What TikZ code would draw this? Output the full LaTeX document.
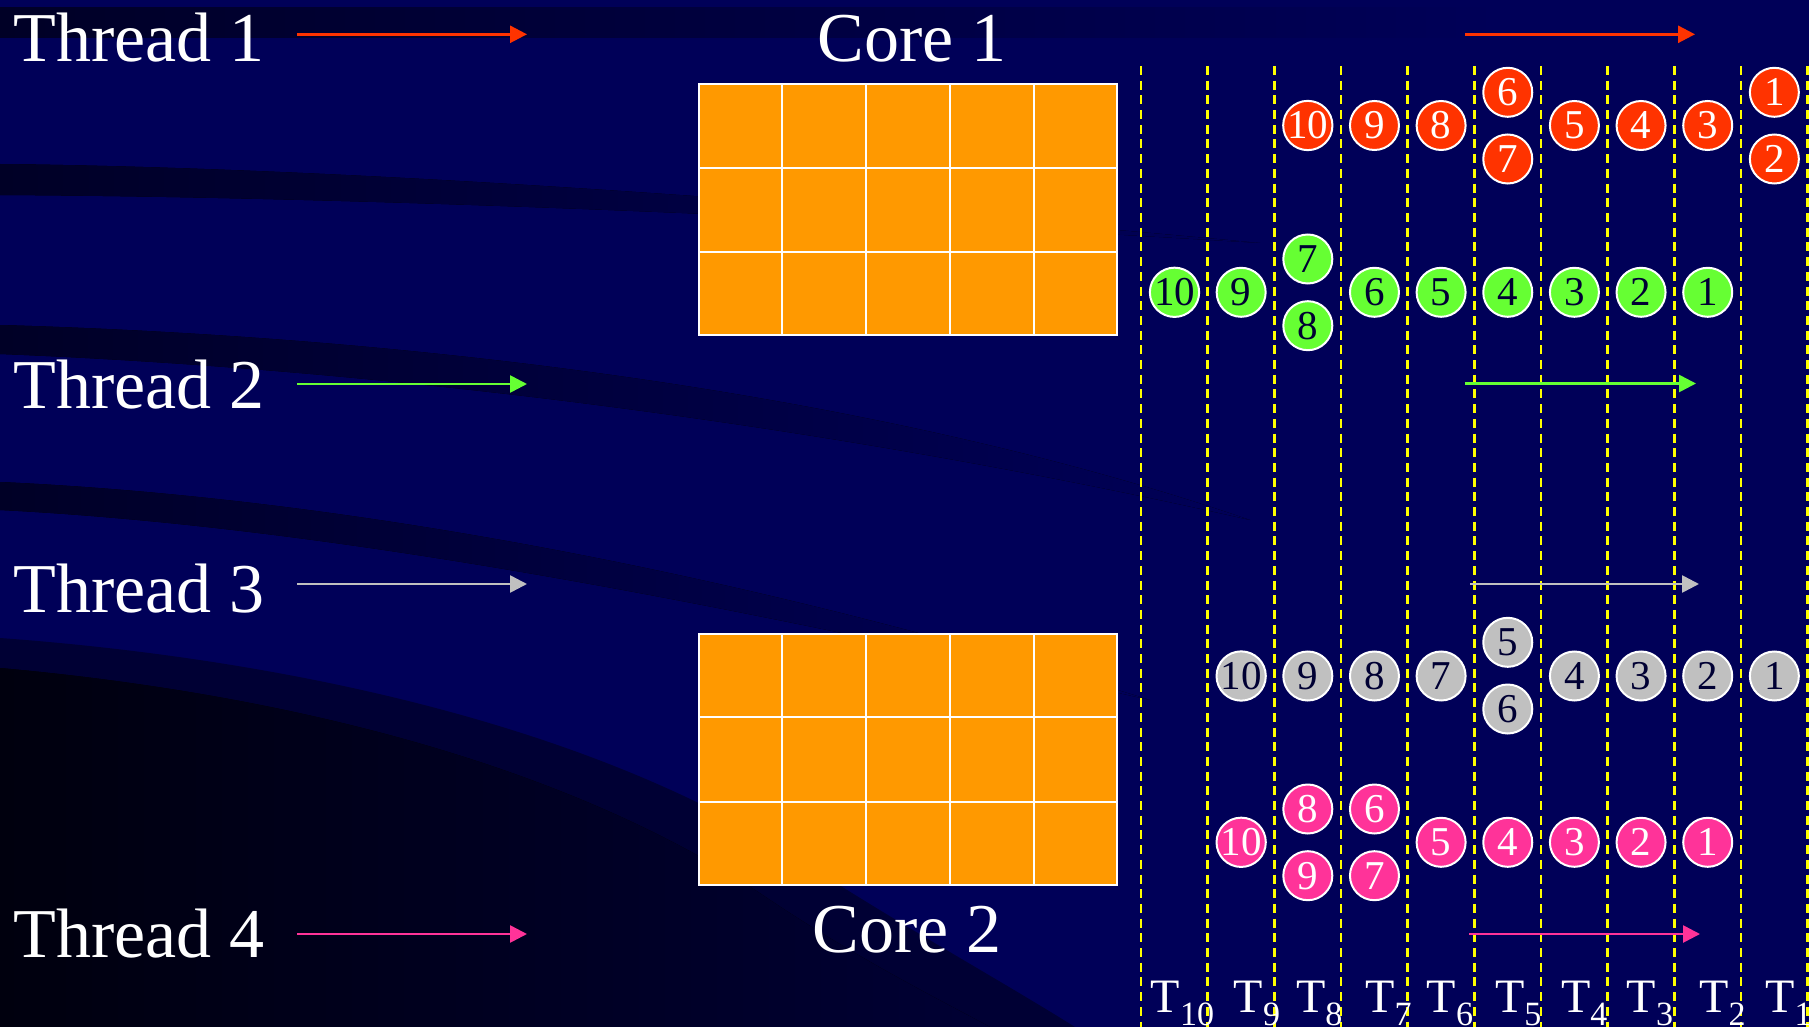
\documentclass[tikz,border=0pt]{standalone}
\usepackage{fontspec}
\setmainfont{Liberation Serif}
\usetikzlibrary{arrows.meta,calc}
\definecolor{bg}{RGB}{0,0,88}
\definecolor{banddk}{RGB}{0,0,38}
\definecolor{regE}{RGB}{0,0,52}
\definecolor{regF}{RGB}{0,0,14}
\definecolor{coreorange}{RGB}{255,153,0}
\definecolor{tred}{RGB}{255,51,0}
\definecolor{tgreen}{RGB}{102,255,51}
\definecolor{tgray}{RGB}{192,192,192}
\definecolor{tpink}{RGB}{255,51,153}
\definecolor{darktxt}{RGB}{0,0,51}
\definecolor{dashyellow}{RGB}{255,255,0}
\newcommand\mysub[1]{\raisebox{-6.15pt}{\fontsize{17}{17}\selectfont #1}}
\begin{document}
\begin{tikzpicture}[x=0.5pt,y=-0.5pt,
  lab/.style={text=white,font=\fontsize{35}{40}\selectfont,inner sep=0pt},
  tlab/.style={text=white,font=\fontsize{24}{28}\selectfont,inner sep=0pt,anchor=base west},
  corebox/.style={draw=white,line width=1pt,fill=coreorange,minimum width=209pt,minimum height=125.5pt,inner sep=0pt},
  gridline/.style={draw=white,line width=1pt},
  arr/.style={line width=1.3pt,-{Triangle[length=8.5pt,width=8.5pt]}},
  vdash/.style={draw=dashyellow,line width=1.3pt,dash pattern=on 4.5pt off 2.85pt},
  tok/.style={circle,draw=white,line width=1pt,minimum size=24.5pt,inner sep=0pt,font=\fontsize{20.5}{22}\selectfont},
  redtok/.style={tok,fill=tred,text=white},
  greentok/.style={tok,fill=tgreen,text=darktxt},
  graytok/.style={tok,fill=tgray,text=darktxt},
  pinktok/.style={tok,fill=tpink,text=white}]
\useasboundingbox (0,0) rectangle (1809,1027);
% background
\fill[bg] (0,0) rectangle (1809,1027);
\fill[left color=banddk,right color=bg] (0,8) rectangle (1500,38);
\fill[left color=banddk,right color=bg] (0,164) .. controls (350,168) and (800,200) .. (1260,243) .. controls (800,215) and (350,197) .. (0,195) -- cycle;
\fill[left color=banddk,right color=bg] (0,325) .. controls (450,338) and (900,400) .. (1250,520) .. controls (900,440) and (450,372) .. (0,354) -- cycle;
\fill[left color=banddk,right color=bg] (0,482) .. controls (350,498) and (750,575) .. (1150,700) .. controls (750,610) and (350,528) .. (0,510) -- cycle;
\fill[regE] (0,638) .. controls (300,660) and (600,730) .. (800,860) .. controls (900,925) and (1000,980) .. (1075,1027) -- (0,1027) -- cycle;
\fill[left color=regF,right color=regE] (0,668) .. controls (300,695) and (580,770) .. (770,900) .. controls (860,960) and (940,1000) .. (990,1027) -- (0,1027) -- cycle;
% dashed time lines
\foreach \i in {0,...,10}{
  \coordinate (dt\i) at ({1141+66.65*\i},66);
  \coordinate (db\i) at ({1141+66.65*\i},1027);
  \draw[vdash] (dt\i) -- (db\i);
}
% cores
\node[corebox] (core1) at (908,209.7) {};
\node[corebox] (core2) at (908,759.5) {};
\foreach \c in {core1,core2}{
  \foreach \i in {1,...,4}{
    \draw[gridline] ($(\c.north west)!\i/5!(\c.north east)$) -- ($(\c.south west)!\i/5!(\c.south east)$);
  }
  \foreach \i in {1,2}{
    \draw[gridline] ($(\c.north west)!\i/3!(\c.south west)$) -- ($(\c.north east)!\i/3!(\c.south east)$);
  }
}
% labels
\node[lab,anchor=base west] (th1) at (13,61.7) {Thread 1};
\node[lab,anchor=base west] (th2) at (13,408.3) {Thread 2};
\node[lab,anchor=base west] (th3) at (13,612) {Thread 3};
\node[lab,anchor=base west] (th4) at (13,957.8) {Thread 4};
\node[lab,anchor=base] (c1lab) at (912,62) {Core 1};
\node[lab,anchor=base] (c2lab) at (907,952) {Core 2};
% arrows
\coordinate (l1s) at (297,34.3); \coordinate (l1e) at (527,34.3);
\coordinate (l2s) at (297,384); \coordinate (l2e) at (527,384);
\coordinate (l3s) at (297,584); \coordinate (l3e) at (527,584);
\coordinate (l4s) at (297,934); \coordinate (l4e) at (527,934);
\coordinate (r1s) at (1465,34.3); \coordinate (r1e) at (1695,34.3);
\coordinate (r2s) at (1465,383.5); \coordinate (r2e) at (1696,383.5);
\coordinate (r3s) at (1470,584); \coordinate (r3e) at (1699,584);
\coordinate (r4s) at (1469,934); \coordinate (r4e) at (1700,934);
\draw[arr,tred] (l1s) -- (l1e);
\draw[arr,tgreen] (l2s) -- (l2e);
\draw[arr,tgray] (l3s) -- (l3e);
\draw[arr,tpink] (l4s) -- (l4e);
\draw[arr,tred] (r1s) -- (r1e);
\draw[arr,tgreen] (r2s) -- (r2e);
\draw[arr,tgray] (r3s) -- (r3e);
\draw[arr,tpink] (r4s) -- (r4e);
% tokens
\foreach \k/\yy/\t in {2/125.5/10,3/125.5/9,4/125.5/8,5/92.3/6,5/159/7,6/125.5/5,7/125.5/4,8/125.5/3,9/92.3/1,9/159/2}
  \node[redtok] (red\t) at ({1174.5+66.65*\k},\yy) {\t};
\foreach \k/\yy/\t in {0/292.3/10,1/292.3/9,2/259/7,2/325.7/8,3/292.3/6,4/292.3/5,5/292.3/4,6/292.3/3,7/292.3/2,8/292.3/1}
  \node[greentok] (grn\t) at ({1174.5+66.65*\k},\yy) {\t};
\foreach \k/\yy/\t in {1/676/10,2/676/9,3/676/8,4/676/7,5/642.3/5,5/709/6,6/676/4,7/676/3,8/676/2,9/676/1}
  \node[graytok] (gry\t) at ({1174.5+66.65*\k},\yy) {\t};
\foreach \k/\yy/\t in {1/842.3/10,2/809/8,2/875.7/9,3/809/6,3/875.7/7,4/842.3/5,5/842.3/4,6/842.3/3,7/842.3/2,8/842.3/1}
  \node[pinktok] (pnk\t) at ({1174.5+66.65*\k},\yy) {\t};
% time labels
\node[tlab] (T10) at (1150.5,1012.7) {T\mysub{10}};
\node[tlab] (T9) at (1233.3,1012.7) {T\mysub{9}};
\node[tlab] (T8) at (1295.7,1012.7) {T\mysub{8}};
\node[tlab] (T7) at (1365,1012.7) {T\mysub{7}};
\node[tlab] (T6) at (1426.5,1012.7) {T\mysub{6}};
\node[tlab] (T5) at (1494.7,1012.7) {T\mysub{5}};
\node[tlab] (T4) at (1560.6,1012.7) {T\mysub{4}};
\node[tlab] (T3) at (1626.5,1012.7) {T\mysub{3}};
\node[tlab] (T2) at (1699,1012.7) {T\mysub{2}};
\node[tlab] (T1) at (1765,1012.7) {T\mysub{1}};
\end{tikzpicture}
\end{document}
